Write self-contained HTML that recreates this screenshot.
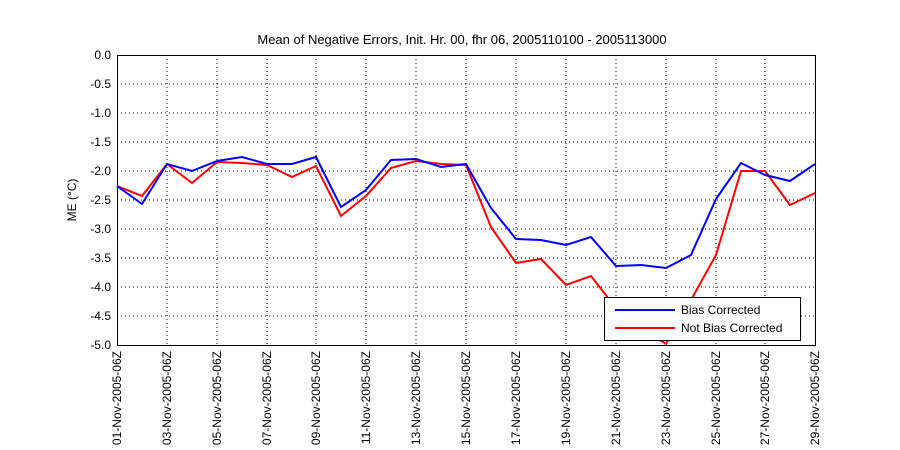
<!DOCTYPE html>
<html><head><style>body{margin:0;background:#fff}svg{display:block}</style></head><body>
<svg width="900" height="450" xmlns="http://www.w3.org/2000/svg" font-family="Liberation Sans, sans-serif" font-size="12">
<rect width="900" height="450" fill="#fff"/>
<g stroke="#000" stroke-width="1" stroke-dasharray="1,3">
<line x1="167" y1="55" x2="167" y2="345"/><line x1="217" y1="55" x2="217" y2="345"/><line x1="267" y1="55" x2="267" y2="345"/><line x1="316" y1="55" x2="316" y2="345"/><line x1="366" y1="55" x2="366" y2="345"/><line x1="416" y1="55" x2="416" y2="345"/><line x1="466" y1="55" x2="466" y2="345"/><line x1="516" y1="55" x2="516" y2="345"/><line x1="566" y1="55" x2="566" y2="345"/><line x1="616" y1="55" x2="616" y2="345"/><line x1="666" y1="55" x2="666" y2="345"/><line x1="716" y1="55" x2="716" y2="345"/><line x1="765" y1="55" x2="765" y2="345"/>
<line x1="117" y1="84" x2="815" y2="84"/><line x1="117" y1="113" x2="815" y2="113"/><line x1="117" y1="142" x2="815" y2="142"/><line x1="117" y1="171" x2="815" y2="171"/><line x1="117" y1="200" x2="815" y2="200"/><line x1="117" y1="229" x2="815" y2="229"/><line x1="117" y1="258" x2="815" y2="258"/><line x1="117" y1="287" x2="815" y2="287"/><line x1="117" y1="316" x2="815" y2="316"/>
</g>
<rect x="117.5" y="55.5" width="698" height="290" fill="none" stroke="#000"/>
<polyline fill="none" stroke="#f00" stroke-width="2" points="117,186 142,196 167,164 192,183 217,162 242,163 267,165 292,177 316,166 341,216 366,196 391,168 416,161 441,164 466,165 491,227 516,263 541,259 566,285 591,276 616,308 641,328 666,344 691,300 716,255 741,171 765,171 790,205 815,193"/>
<polyline fill="none" stroke="#00f" stroke-width="2" points="117,186 142,204 167,164 192,171 217,161 242,157 267,164 292,164 316,157 341,207 366,190 391,160 416,159 441,167 466,164 491,208 516,239 541,240 566,245 591,237 616,266 641,265 666,268 691,255 716,199 741,163 765,175 790,181 815,164"/>
<g text-anchor="end">
<text x="111" y="59">0.0</text><text x="111" y="88">-0.5</text><text x="111" y="117">-1.0</text><text x="111" y="146">-1.5</text><text x="111" y="175">-2.0</text><text x="111" y="204">-2.5</text><text x="111" y="233">-3.0</text><text x="111" y="262">-3.5</text><text x="111" y="291">-4.0</text><text x="111" y="320">-4.5</text><text x="111" y="349">-5.0</text>
</g>
<text x="462" y="44" text-anchor="middle" font-size="13">Mean of Negative Errors, Init. Hr. 00, fhr 06, 2005110100 - 2005113000</text>
<text transform="translate(76,200) rotate(-90)" text-anchor="middle">ME (°C)</text>
<g text-anchor="end">
<text transform="translate(121,351) rotate(-90)">01-Nov-2005-06Z</text><text transform="translate(171,351) rotate(-90)">03-Nov-2005-06Z</text><text transform="translate(221,351) rotate(-90)">05-Nov-2005-06Z</text><text transform="translate(271,351) rotate(-90)">07-Nov-2005-06Z</text><text transform="translate(320,351) rotate(-90)">09-Nov-2005-06Z</text><text transform="translate(370,351) rotate(-90)">11-Nov-2005-06Z</text><text transform="translate(420,351) rotate(-90)">13-Nov-2005-06Z</text><text transform="translate(470,351) rotate(-90)">15-Nov-2005-06Z</text><text transform="translate(520,351) rotate(-90)">17-Nov-2005-06Z</text><text transform="translate(570,351) rotate(-90)">19-Nov-2005-06Z</text><text transform="translate(620,351) rotate(-90)">21-Nov-2005-06Z</text><text transform="translate(670,351) rotate(-90)">23-Nov-2005-06Z</text><text transform="translate(720,351) rotate(-90)">25-Nov-2005-06Z</text><text transform="translate(769,351) rotate(-90)">27-Nov-2005-06Z</text><text transform="translate(819,351) rotate(-90)">29-Nov-2005-06Z</text>
</g>
<rect x="604.5" y="297.5" width="196" height="43" fill="#fff" stroke="#000"/>
<line x1="615" y1="310" x2="675" y2="310" stroke="#00f" stroke-width="2"/>
<line x1="615" y1="328" x2="675" y2="328" stroke="#f00" stroke-width="2"/>
<text x="681" y="314">Bias Corrected</text>
<text x="681" y="332">Not Bias Corrected</text>
</svg>
</body></html>
